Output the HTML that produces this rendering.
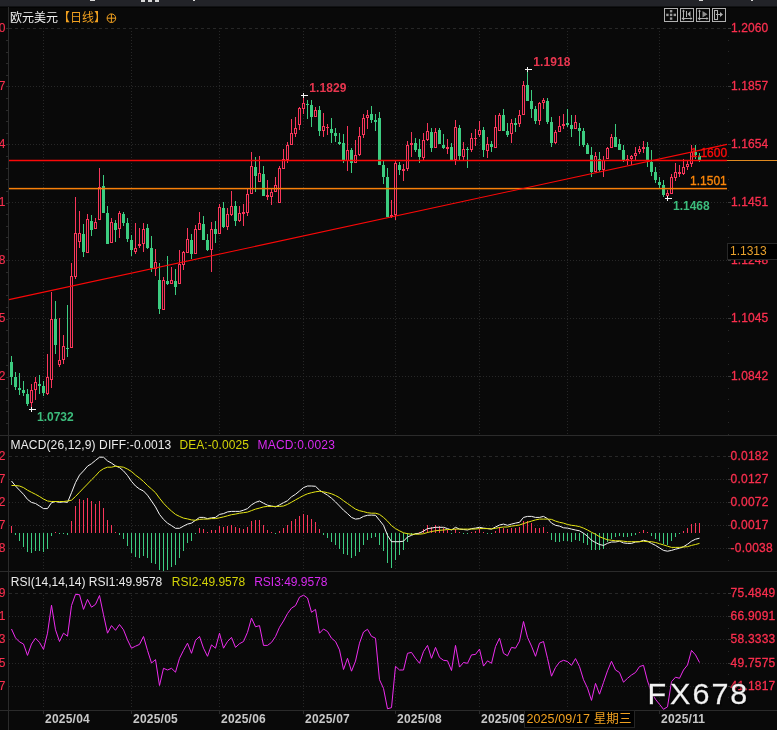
<!DOCTYPE html>
<html><head><meta charset="utf-8"><title>欧元美元 日线</title>
<style>html,body{margin:0;padding:0;background:#090909;overflow:hidden}body{width:777px;height:730px;position:relative}</style>
</head><body>
<svg width="777" height="730" viewBox="0 0 777 730" style="position:absolute;left:0;top:0;display:block">
<rect x="0" y="0" width="777" height="730" fill="#090909"/>
<rect x="0" y="0" width="777" height="6.7" fill="#222328"/><rect x="0" y="6.7" width="777" height="1" fill="#030303"/>
<g fill="#d8d8d8"><rect x="90" y="0" width="5" height="1"/><rect x="141" y="0" width="4" height="2"/><rect x="148" y="0" width="4" height="2"/><rect x="155" y="0" width="4" height="2"/><rect x="193" y="0" width="2" height="1"/><rect x="699" y="0" width="4" height="1"/><rect x="751" y="0" width="2" height="1"/></g>
<g stroke="#272727" stroke-width="1" fill="none" shape-rendering="crispEdges">
<line x1="9" y1="28.5" x2="728" y2="28.5" stroke-dasharray="3 3"/>
<line x1="9" y1="86.5" x2="728" y2="86.5" stroke-dasharray="1 2"/>
<line x1="9" y1="144.5" x2="728" y2="144.5" stroke-dasharray="1 2"/>
<line x1="9" y1="202.5" x2="728" y2="202.5" stroke-dasharray="1 2"/>
<line x1="9" y1="260.5" x2="728" y2="260.5" stroke-dasharray="1 2"/>
<line x1="9" y1="318.5" x2="728" y2="318.5" stroke-dasharray="1 2"/>
<line x1="9" y1="376.5" x2="728" y2="376.5" stroke-dasharray="1 2"/>
<line x1="9" y1="456.5" x2="728" y2="456.5" stroke-dasharray="3 3"/>
<line x1="9" y1="479.5" x2="728" y2="479.5" stroke-dasharray="1 2"/>
<line x1="9" y1="502.5" x2="728" y2="502.5" stroke-dasharray="1 2"/>
<line x1="9" y1="525.5" x2="728" y2="525.5" stroke-dasharray="1 2"/>
<line x1="9" y1="548.5" x2="728" y2="548.5" stroke-dasharray="1 2"/>
<line x1="9" y1="593.5" x2="728" y2="593.5" stroke-dasharray="3 3"/>
<line x1="9" y1="616.5" x2="728" y2="616.5" stroke-dasharray="1 2"/>
<line x1="9" y1="639.5" x2="728" y2="639.5" stroke-dasharray="1 2"/>
<line x1="9" y1="663.5" x2="728" y2="663.5" stroke-dasharray="1 2"/>
<line x1="9" y1="686.5" x2="728" y2="686.5" stroke-dasharray="1 2"/>
<line x1="43.5" y1="28" x2="43.5" y2="435" stroke-dasharray="1 2"/>
<line x1="43.5" y1="457" x2="43.5" y2="571" stroke-dasharray="1 2"/>
<line x1="43.5" y1="595" x2="43.5" y2="709" stroke-dasharray="1 2"/>
<line x1="131.5" y1="28" x2="131.5" y2="435" stroke-dasharray="1 2"/>
<line x1="131.5" y1="457" x2="131.5" y2="571" stroke-dasharray="1 2"/>
<line x1="131.5" y1="595" x2="131.5" y2="709" stroke-dasharray="1 2"/>
<line x1="219.5" y1="28" x2="219.5" y2="435" stroke-dasharray="1 2"/>
<line x1="219.5" y1="457" x2="219.5" y2="571" stroke-dasharray="1 2"/>
<line x1="219.5" y1="595" x2="219.5" y2="709" stroke-dasharray="1 2"/>
<line x1="303.5" y1="28" x2="303.5" y2="435" stroke-dasharray="1 2"/>
<line x1="303.5" y1="457" x2="303.5" y2="571" stroke-dasharray="1 2"/>
<line x1="303.5" y1="595" x2="303.5" y2="709" stroke-dasharray="1 2"/>
<line x1="395.5" y1="28" x2="395.5" y2="435" stroke-dasharray="1 2"/>
<line x1="395.5" y1="457" x2="395.5" y2="571" stroke-dasharray="1 2"/>
<line x1="395.5" y1="595" x2="395.5" y2="709" stroke-dasharray="1 2"/>
<line x1="479.5" y1="28" x2="479.5" y2="435" stroke-dasharray="1 2"/>
<line x1="479.5" y1="457" x2="479.5" y2="571" stroke-dasharray="1 2"/>
<line x1="479.5" y1="595" x2="479.5" y2="709" stroke-dasharray="1 2"/>
<line x1="567.5" y1="28" x2="567.5" y2="435" stroke-dasharray="1 2"/>
<line x1="567.5" y1="457" x2="567.5" y2="571" stroke-dasharray="1 2"/>
<line x1="567.5" y1="595" x2="567.5" y2="709" stroke-dasharray="1 2"/>
<line x1="659.5" y1="28" x2="659.5" y2="435" stroke-dasharray="1 2"/>
<line x1="659.5" y1="457" x2="659.5" y2="571" stroke-dasharray="1 2"/>
<line x1="659.5" y1="595" x2="659.5" y2="709" stroke-dasharray="1 2"/>
<line x1="728.5" y1="28" x2="728.5" y2="435" stroke-dasharray="1 10.6"/>
<line x1="728.5" y1="456" x2="728.5" y2="571" stroke-dasharray="1 10.5"/>
<line x1="728.5" y1="593" x2="728.5" y2="709" stroke-dasharray="1 10.6"/>
</g>
<g stroke="#2b2b2b" stroke-width="1" shape-rendering="crispEdges">
<line x1="0" y1="435.5" x2="777" y2="435.5"/>
<line x1="0" y1="571.5" x2="777" y2="571.5"/>
<line x1="0" y1="710.5" x2="777" y2="710.5"/>
<line x1="8.5" y1="7" x2="8.5" y2="730"/>
<line x1="43.5" y1="711" x2="43.5" y2="714"/>
<line x1="131.5" y1="711" x2="131.5" y2="714"/>
<line x1="219.5" y1="711" x2="219.5" y2="714"/>
<line x1="303.5" y1="711" x2="303.5" y2="714"/>
<line x1="395.5" y1="711" x2="395.5" y2="714"/>
<line x1="479.5" y1="711" x2="479.5" y2="714"/>
<line x1="567.5" y1="711" x2="567.5" y2="714"/>
<line x1="659.5" y1="711" x2="659.5" y2="714"/>
<line x1="6" y1="28.5" x2="8" y2="28.5"/>
<line x1="6" y1="40.5" x2="8" y2="40.5"/>
<line x1="6" y1="52.5" x2="8" y2="52.5"/>
<line x1="6" y1="63.5" x2="8" y2="63.5"/>
<line x1="6" y1="75.5" x2="8" y2="75.5"/>
<line x1="6" y1="86.5" x2="8" y2="86.5"/>
<line x1="6" y1="98.5" x2="8" y2="98.5"/>
<line x1="6" y1="110.5" x2="8" y2="110.5"/>
<line x1="6" y1="121.5" x2="8" y2="121.5"/>
<line x1="6" y1="133.5" x2="8" y2="133.5"/>
<line x1="6" y1="144.5" x2="8" y2="144.5"/>
<line x1="6" y1="156.5" x2="8" y2="156.5"/>
<line x1="6" y1="168.5" x2="8" y2="168.5"/>
<line x1="6" y1="179.5" x2="8" y2="179.5"/>
<line x1="6" y1="191.5" x2="8" y2="191.5"/>
<line x1="6" y1="203.5" x2="8" y2="203.5"/>
<line x1="6" y1="214.5" x2="8" y2="214.5"/>
<line x1="6" y1="226.5" x2="8" y2="226.5"/>
<line x1="6" y1="237.5" x2="8" y2="237.5"/>
<line x1="6" y1="249.5" x2="8" y2="249.5"/>
<line x1="6" y1="260.5" x2="8" y2="260.5"/>
<line x1="6" y1="272.5" x2="8" y2="272.5"/>
<line x1="6" y1="284.5" x2="8" y2="284.5"/>
<line x1="6" y1="295.5" x2="8" y2="295.5"/>
<line x1="6" y1="307.5" x2="8" y2="307.5"/>
<line x1="6" y1="319.5" x2="8" y2="319.5"/>
<line x1="6" y1="330.5" x2="8" y2="330.5"/>
<line x1="6" y1="342.5" x2="8" y2="342.5"/>
<line x1="6" y1="353.5" x2="8" y2="353.5"/>
<line x1="6" y1="365.5" x2="8" y2="365.5"/>
<line x1="6" y1="377.5" x2="8" y2="377.5"/>
<line x1="6" y1="388.5" x2="8" y2="388.5"/>
<line x1="6" y1="400.5" x2="8" y2="400.5"/>
<line x1="6" y1="411.5" x2="8" y2="411.5"/>
<line x1="6" y1="423.5" x2="8" y2="423.5"/>
<line x1="6" y1="435.5" x2="8" y2="435.5"/>
</g>
<g shape-rendering="crispEdges">
<rect x="11" y="356" width="1" height="29" fill="#3ccc80"/>
<rect x="10" y="362" width="3" height="15" fill="#3ccc80"/>
<rect x="15" y="372" width="1" height="18" fill="#3ccc80"/>
<rect x="14" y="377" width="3" height="10" fill="#3ccc80"/>
<rect x="19" y="373" width="1" height="22" fill="#3ccc80"/>
<rect x="18" y="388" width="3" height="2" fill="#3ccc80"/>
<rect x="23" y="381" width="1" height="15" fill="#3ccc80"/>
<rect x="22" y="390" width="3" height="3" fill="#3ccc80"/>
<rect x="27" y="389" width="1" height="17" fill="#3ccc80"/>
<rect x="26" y="394" width="3" height="10" fill="#3ccc80"/>
<rect x="31" y="384" width="1" height="6" fill="#f8365a"/>
<rect x="31" y="403" width="1" height="4" fill="#f8365a"/>
<rect x="30" y="390" width="3" height="13" fill="#f8365a"/>
<rect x="31" y="391" width="1" height="11" fill="#090909"/>
<rect x="35" y="377" width="1" height="5" fill="#f8365a"/>
<rect x="35" y="390" width="1" height="10" fill="#f8365a"/>
<rect x="34" y="382" width="3" height="8" fill="#f8365a"/>
<rect x="35" y="383" width="1" height="6" fill="#090909"/>
<rect x="39" y="375" width="1" height="19" fill="#3ccc80"/>
<rect x="38" y="384" width="3" height="2" fill="#3ccc80"/>
<rect x="43" y="381" width="1" height="15" fill="#3ccc80"/>
<rect x="42" y="386" width="3" height="7" fill="#3ccc80"/>
<rect x="47" y="354" width="1" height="23" fill="#f8365a"/>
<rect x="47" y="394" width="1" height="1" fill="#f8365a"/>
<rect x="46" y="377" width="3" height="17" fill="#f8365a"/>
<rect x="47" y="378" width="1" height="15" fill="#090909"/>
<rect x="51" y="292" width="1" height="27" fill="#f8365a"/>
<rect x="51" y="380" width="1" height="8" fill="#f8365a"/>
<rect x="50" y="319" width="3" height="61" fill="#f8365a"/>
<rect x="51" y="320" width="1" height="59" fill="#090909"/>
<rect x="55" y="301" width="1" height="53" fill="#3ccc80"/>
<rect x="54" y="319" width="3" height="26" fill="#3ccc80"/>
<rect x="59" y="318" width="1" height="42" fill="#f8365a"/>
<rect x="59" y="365" width="1" height="2" fill="#f8365a"/>
<rect x="58" y="360" width="3" height="5" fill="#f8365a"/>
<rect x="59" y="361" width="1" height="3" fill="#090909"/>
<rect x="63" y="335" width="1" height="11" fill="#f8365a"/>
<rect x="63" y="360" width="1" height="4" fill="#f8365a"/>
<rect x="62" y="346" width="3" height="14" fill="#f8365a"/>
<rect x="63" y="347" width="1" height="12" fill="#090909"/>
<rect x="67" y="305" width="1" height="52" fill="#3ccc80"/>
<rect x="66" y="348" width="3" height="1" fill="#3ccc80"/>
<rect x="71" y="263" width="1" height="13" fill="#f8365a"/>
<rect x="70" y="276" width="3" height="72" fill="#f8365a"/>
<rect x="71" y="277" width="1" height="70" fill="#090909"/>
<rect x="75" y="197" width="1" height="36" fill="#f8365a"/>
<rect x="75" y="277" width="1" height="2" fill="#f8365a"/>
<rect x="74" y="233" width="3" height="44" fill="#f8365a"/>
<rect x="75" y="234" width="1" height="42" fill="#090909"/>
<rect x="79" y="211" width="1" height="22" fill="#f8365a"/>
<rect x="79" y="242" width="1" height="6" fill="#f8365a"/>
<rect x="78" y="233" width="3" height="9" fill="#f8365a"/>
<rect x="79" y="234" width="1" height="7" fill="#090909"/>
<rect x="83" y="224" width="1" height="33" fill="#3ccc80"/>
<rect x="82" y="234" width="3" height="18" fill="#3ccc80"/>
<rect x="87" y="214" width="1" height="5" fill="#f8365a"/>
<rect x="86" y="219" width="3" height="34" fill="#f8365a"/>
<rect x="87" y="220" width="1" height="32" fill="#090909"/>
<rect x="91" y="215" width="1" height="21" fill="#3ccc80"/>
<rect x="90" y="221" width="3" height="9" fill="#3ccc80"/>
<rect x="95" y="218" width="1" height="4" fill="#f8365a"/>
<rect x="94" y="222" width="3" height="7" fill="#f8365a"/>
<rect x="95" y="223" width="1" height="5" fill="#090909"/>
<rect x="99" y="168" width="1" height="19" fill="#f8365a"/>
<rect x="98" y="187" width="3" height="33" fill="#f8365a"/>
<rect x="99" y="188" width="1" height="31" fill="#090909"/>
<rect x="103" y="175" width="1" height="38" fill="#3ccc80"/>
<rect x="102" y="186" width="3" height="27" fill="#3ccc80"/>
<rect x="107" y="206" width="1" height="38" fill="#3ccc80"/>
<rect x="106" y="213" width="3" height="31" fill="#3ccc80"/>
<rect x="111" y="218" width="1" height="4" fill="#f8365a"/>
<rect x="110" y="222" width="3" height="21" fill="#f8365a"/>
<rect x="111" y="223" width="1" height="19" fill="#090909"/>
<rect x="115" y="220" width="1" height="22" fill="#3ccc80"/>
<rect x="114" y="223" width="3" height="7" fill="#3ccc80"/>
<rect x="119" y="211" width="1" height="2" fill="#f8365a"/>
<rect x="119" y="229" width="1" height="9" fill="#f8365a"/>
<rect x="118" y="213" width="3" height="16" fill="#f8365a"/>
<rect x="119" y="214" width="1" height="14" fill="#090909"/>
<rect x="123" y="212" width="1" height="14" fill="#3ccc80"/>
<rect x="122" y="214" width="3" height="9" fill="#3ccc80"/>
<rect x="127" y="218" width="1" height="24" fill="#3ccc80"/>
<rect x="126" y="223" width="3" height="16" fill="#3ccc80"/>
<rect x="131" y="235" width="1" height="21" fill="#3ccc80"/>
<rect x="130" y="240" width="3" height="10" fill="#3ccc80"/>
<rect x="135" y="223" width="1" height="25" fill="#f8365a"/>
<rect x="135" y="252" width="1" height="2" fill="#f8365a"/>
<rect x="134" y="248" width="3" height="4" fill="#f8365a"/>
<rect x="135" y="249" width="1" height="2" fill="#090909"/>
<rect x="139" y="228" width="1" height="16" fill="#f8365a"/>
<rect x="139" y="246" width="1" height="2" fill="#f8365a"/>
<rect x="138" y="244" width="3" height="2" fill="#f8365a"/>
<rect x="143" y="223" width="1" height="6" fill="#f8365a"/>
<rect x="143" y="244" width="1" height="8" fill="#f8365a"/>
<rect x="142" y="229" width="3" height="15" fill="#f8365a"/>
<rect x="143" y="230" width="1" height="13" fill="#090909"/>
<rect x="147" y="224" width="1" height="25" fill="#3ccc80"/>
<rect x="146" y="228" width="3" height="20" fill="#3ccc80"/>
<rect x="151" y="236" width="1" height="36" fill="#3ccc80"/>
<rect x="150" y="248" width="3" height="20" fill="#3ccc80"/>
<rect x="155" y="249" width="1" height="13" fill="#f8365a"/>
<rect x="155" y="269" width="1" height="7" fill="#f8365a"/>
<rect x="154" y="262" width="3" height="7" fill="#f8365a"/>
<rect x="155" y="263" width="1" height="5" fill="#090909"/>
<rect x="159" y="263" width="1" height="51" fill="#3ccc80"/>
<rect x="158" y="280" width="3" height="29" fill="#3ccc80"/>
<rect x="163" y="277" width="1" height="3" fill="#f8365a"/>
<rect x="162" y="280" width="3" height="30" fill="#f8365a"/>
<rect x="163" y="281" width="1" height="28" fill="#090909"/>
<rect x="167" y="256" width="1" height="29" fill="#3ccc80"/>
<rect x="166" y="281" width="3" height="3" fill="#3ccc80"/>
<rect x="171" y="267" width="1" height="13" fill="#f8365a"/>
<rect x="170" y="280" width="3" height="4" fill="#f8365a"/>
<rect x="171" y="281" width="1" height="2" fill="#090909"/>
<rect x="175" y="269" width="1" height="26" fill="#3ccc80"/>
<rect x="174" y="281" width="3" height="6" fill="#3ccc80"/>
<rect x="179" y="250" width="1" height="14" fill="#f8365a"/>
<rect x="178" y="264" width="3" height="20" fill="#f8365a"/>
<rect x="179" y="265" width="1" height="18" fill="#090909"/>
<rect x="183" y="251" width="1" height="1" fill="#f8365a"/>
<rect x="183" y="265" width="1" height="5" fill="#f8365a"/>
<rect x="182" y="252" width="3" height="13" fill="#f8365a"/>
<rect x="183" y="253" width="1" height="11" fill="#090909"/>
<rect x="187" y="228" width="1" height="11" fill="#f8365a"/>
<rect x="186" y="239" width="3" height="14" fill="#f8365a"/>
<rect x="187" y="240" width="1" height="12" fill="#090909"/>
<rect x="191" y="234" width="1" height="25" fill="#3ccc80"/>
<rect x="190" y="240" width="3" height="14" fill="#3ccc80"/>
<rect x="195" y="225" width="1" height="4" fill="#f8365a"/>
<rect x="194" y="229" width="3" height="25" fill="#f8365a"/>
<rect x="195" y="230" width="1" height="23" fill="#090909"/>
<rect x="199" y="212" width="1" height="11" fill="#f8365a"/>
<rect x="198" y="223" width="3" height="7" fill="#f8365a"/>
<rect x="199" y="224" width="1" height="5" fill="#090909"/>
<rect x="203" y="216" width="1" height="24" fill="#3ccc80"/>
<rect x="202" y="224" width="3" height="16" fill="#3ccc80"/>
<rect x="207" y="234" width="1" height="17" fill="#3ccc80"/>
<rect x="206" y="240" width="3" height="10" fill="#3ccc80"/>
<rect x="211" y="222" width="1" height="7" fill="#f8365a"/>
<rect x="211" y="250" width="1" height="22" fill="#f8365a"/>
<rect x="210" y="229" width="3" height="21" fill="#f8365a"/>
<rect x="211" y="230" width="1" height="19" fill="#090909"/>
<rect x="215" y="221" width="1" height="22" fill="#3ccc80"/>
<rect x="214" y="229" width="3" height="5" fill="#3ccc80"/>
<rect x="219" y="204" width="1" height="3" fill="#f8365a"/>
<rect x="218" y="207" width="3" height="27" fill="#f8365a"/>
<rect x="219" y="208" width="1" height="25" fill="#090909"/>
<rect x="223" y="202" width="1" height="26" fill="#3ccc80"/>
<rect x="222" y="208" width="3" height="19" fill="#3ccc80"/>
<rect x="227" y="208" width="1" height="6" fill="#f8365a"/>
<rect x="227" y="227" width="1" height="3" fill="#f8365a"/>
<rect x="226" y="214" width="3" height="13" fill="#f8365a"/>
<rect x="227" y="215" width="1" height="11" fill="#090909"/>
<rect x="231" y="191" width="1" height="15" fill="#f8365a"/>
<rect x="231" y="215" width="1" height="1" fill="#f8365a"/>
<rect x="230" y="206" width="3" height="9" fill="#f8365a"/>
<rect x="231" y="207" width="1" height="7" fill="#090909"/>
<rect x="235" y="201" width="1" height="25" fill="#3ccc80"/>
<rect x="234" y="206" width="3" height="15" fill="#3ccc80"/>
<rect x="239" y="206" width="1" height="7" fill="#f8365a"/>
<rect x="239" y="221" width="1" height="1" fill="#f8365a"/>
<rect x="238" y="213" width="3" height="8" fill="#f8365a"/>
<rect x="239" y="214" width="1" height="6" fill="#090909"/>
<rect x="243" y="204" width="1" height="8" fill="#f8365a"/>
<rect x="243" y="214" width="1" height="12" fill="#f8365a"/>
<rect x="242" y="212" width="3" height="2" fill="#f8365a"/>
<rect x="247" y="189" width="1" height="5" fill="#f8365a"/>
<rect x="247" y="213" width="1" height="3" fill="#f8365a"/>
<rect x="246" y="194" width="3" height="19" fill="#f8365a"/>
<rect x="247" y="195" width="1" height="17" fill="#090909"/>
<rect x="251" y="152" width="1" height="14" fill="#f8365a"/>
<rect x="250" y="166" width="3" height="28" fill="#f8365a"/>
<rect x="251" y="167" width="1" height="26" fill="#090909"/>
<rect x="255" y="157" width="1" height="35" fill="#3ccc80"/>
<rect x="254" y="167" width="3" height="9" fill="#3ccc80"/>
<rect x="259" y="156" width="1" height="17" fill="#f8365a"/>
<rect x="258" y="173" width="3" height="9" fill="#f8365a"/>
<rect x="259" y="174" width="1" height="7" fill="#090909"/>
<rect x="263" y="166" width="1" height="30" fill="#3ccc80"/>
<rect x="262" y="174" width="3" height="22" fill="#3ccc80"/>
<rect x="267" y="180" width="1" height="15" fill="#f8365a"/>
<rect x="267" y="197" width="1" height="3" fill="#f8365a"/>
<rect x="266" y="195" width="3" height="2" fill="#f8365a"/>
<rect x="271" y="189" width="1" height="3" fill="#f8365a"/>
<rect x="271" y="197" width="1" height="8" fill="#f8365a"/>
<rect x="270" y="192" width="3" height="5" fill="#f8365a"/>
<rect x="271" y="193" width="1" height="3" fill="#090909"/>
<rect x="275" y="177" width="1" height="8" fill="#f8365a"/>
<rect x="274" y="185" width="3" height="7" fill="#f8365a"/>
<rect x="275" y="186" width="1" height="5" fill="#090909"/>
<rect x="279" y="166" width="1" height="2" fill="#f8365a"/>
<rect x="278" y="168" width="3" height="35" fill="#f8365a"/>
<rect x="279" y="169" width="1" height="33" fill="#090909"/>
<rect x="283" y="149" width="1" height="10" fill="#f8365a"/>
<rect x="282" y="159" width="3" height="10" fill="#f8365a"/>
<rect x="283" y="160" width="1" height="8" fill="#090909"/>
<rect x="287" y="142" width="1" height="3" fill="#f8365a"/>
<rect x="287" y="160" width="1" height="3" fill="#f8365a"/>
<rect x="286" y="145" width="3" height="15" fill="#f8365a"/>
<rect x="287" y="146" width="1" height="13" fill="#090909"/>
<rect x="291" y="119" width="1" height="14" fill="#f8365a"/>
<rect x="290" y="133" width="3" height="12" fill="#f8365a"/>
<rect x="291" y="134" width="1" height="10" fill="#090909"/>
<rect x="295" y="117" width="1" height="11" fill="#f8365a"/>
<rect x="295" y="134" width="1" height="3" fill="#f8365a"/>
<rect x="294" y="128" width="3" height="6" fill="#f8365a"/>
<rect x="295" y="129" width="1" height="4" fill="#090909"/>
<rect x="299" y="107" width="1" height="1" fill="#f8365a"/>
<rect x="299" y="125" width="1" height="5" fill="#f8365a"/>
<rect x="298" y="108" width="3" height="17" fill="#f8365a"/>
<rect x="299" y="109" width="1" height="15" fill="#090909"/>
<rect x="303" y="95" width="1" height="8" fill="#f8365a"/>
<rect x="303" y="109" width="1" height="5" fill="#f8365a"/>
<rect x="302" y="103" width="3" height="6" fill="#f8365a"/>
<rect x="303" y="104" width="1" height="4" fill="#090909"/>
<rect x="307" y="100" width="1" height="19" fill="#3ccc80"/>
<rect x="306" y="104" width="3" height="1" fill="#3ccc80"/>
<rect x="311" y="100" width="1" height="27" fill="#3ccc80"/>
<rect x="310" y="105" width="3" height="12" fill="#3ccc80"/>
<rect x="315" y="107" width="1" height="3" fill="#f8365a"/>
<rect x="314" y="110" width="3" height="7" fill="#f8365a"/>
<rect x="315" y="111" width="1" height="5" fill="#090909"/>
<rect x="319" y="106" width="1" height="30" fill="#3ccc80"/>
<rect x="318" y="110" width="3" height="21" fill="#3ccc80"/>
<rect x="323" y="113" width="1" height="13" fill="#f8365a"/>
<rect x="323" y="131" width="1" height="6" fill="#f8365a"/>
<rect x="322" y="126" width="3" height="5" fill="#f8365a"/>
<rect x="323" y="127" width="1" height="3" fill="#090909"/>
<rect x="327" y="124" width="1" height="3" fill="#f8365a"/>
<rect x="327" y="128" width="1" height="7" fill="#f8365a"/>
<rect x="326" y="127" width="3" height="1" fill="#f8365a"/>
<rect x="331" y="118" width="1" height="25" fill="#3ccc80"/>
<rect x="330" y="129" width="3" height="4" fill="#3ccc80"/>
<rect x="335" y="128" width="1" height="14" fill="#3ccc80"/>
<rect x="334" y="133" width="3" height="3" fill="#3ccc80"/>
<rect x="339" y="133" width="1" height="12" fill="#3ccc80"/>
<rect x="338" y="142" width="3" height="2" fill="#3ccc80"/>
<rect x="343" y="134" width="1" height="29" fill="#3ccc80"/>
<rect x="342" y="143" width="3" height="17" fill="#3ccc80"/>
<rect x="347" y="126" width="1" height="24" fill="#f8365a"/>
<rect x="347" y="161" width="1" height="10" fill="#f8365a"/>
<rect x="346" y="150" width="3" height="11" fill="#f8365a"/>
<rect x="347" y="151" width="1" height="9" fill="#090909"/>
<rect x="351" y="148" width="1" height="25" fill="#3ccc80"/>
<rect x="350" y="150" width="3" height="13" fill="#3ccc80"/>
<rect x="355" y="140" width="1" height="15" fill="#f8365a"/>
<rect x="354" y="155" width="3" height="8" fill="#f8365a"/>
<rect x="355" y="156" width="1" height="6" fill="#090909"/>
<rect x="359" y="127" width="1" height="9" fill="#f8365a"/>
<rect x="359" y="155" width="1" height="1" fill="#f8365a"/>
<rect x="358" y="136" width="3" height="19" fill="#f8365a"/>
<rect x="359" y="137" width="1" height="17" fill="#090909"/>
<rect x="363" y="114" width="1" height="4" fill="#f8365a"/>
<rect x="363" y="135" width="1" height="3" fill="#f8365a"/>
<rect x="362" y="118" width="3" height="17" fill="#f8365a"/>
<rect x="363" y="119" width="1" height="15" fill="#090909"/>
<rect x="367" y="110" width="1" height="5" fill="#f8365a"/>
<rect x="367" y="118" width="1" height="11" fill="#f8365a"/>
<rect x="366" y="115" width="3" height="3" fill="#f8365a"/>
<rect x="367" y="116" width="1" height="1" fill="#090909"/>
<rect x="371" y="106" width="1" height="17" fill="#3ccc80"/>
<rect x="370" y="114" width="3" height="6" fill="#3ccc80"/>
<rect x="375" y="114" width="1" height="17" fill="#3ccc80"/>
<rect x="374" y="120" width="3" height="2" fill="#3ccc80"/>
<rect x="379" y="112" width="1" height="53" fill="#3ccc80"/>
<rect x="378" y="118" width="3" height="47" fill="#3ccc80"/>
<rect x="383" y="161" width="1" height="23" fill="#3ccc80"/>
<rect x="382" y="165" width="3" height="12" fill="#3ccc80"/>
<rect x="387" y="168" width="1" height="49" fill="#3ccc80"/>
<rect x="386" y="177" width="3" height="40" fill="#3ccc80"/>
<rect x="391" y="200" width="1" height="15" fill="#f8365a"/>
<rect x="391" y="217" width="1" height="1" fill="#f8365a"/>
<rect x="390" y="215" width="3" height="2" fill="#f8365a"/>
<rect x="395" y="161" width="1" height="2" fill="#f8365a"/>
<rect x="395" y="215" width="1" height="5" fill="#f8365a"/>
<rect x="394" y="163" width="3" height="52" fill="#f8365a"/>
<rect x="395" y="164" width="1" height="50" fill="#090909"/>
<rect x="399" y="162" width="1" height="13" fill="#3ccc80"/>
<rect x="398" y="165" width="3" height="5" fill="#3ccc80"/>
<rect x="403" y="164" width="1" height="5" fill="#f8365a"/>
<rect x="403" y="171" width="1" height="10" fill="#f8365a"/>
<rect x="402" y="169" width="3" height="2" fill="#f8365a"/>
<rect x="407" y="141" width="1" height="4" fill="#f8365a"/>
<rect x="407" y="169" width="1" height="2" fill="#f8365a"/>
<rect x="406" y="145" width="3" height="24" fill="#f8365a"/>
<rect x="407" y="146" width="1" height="22" fill="#090909"/>
<rect x="411" y="132" width="1" height="11" fill="#f8365a"/>
<rect x="411" y="145" width="1" height="12" fill="#f8365a"/>
<rect x="410" y="143" width="3" height="2" fill="#f8365a"/>
<rect x="415" y="138" width="1" height="14" fill="#3ccc80"/>
<rect x="414" y="143" width="3" height="7" fill="#3ccc80"/>
<rect x="419" y="139" width="1" height="24" fill="#3ccc80"/>
<rect x="418" y="149" width="3" height="8" fill="#3ccc80"/>
<rect x="423" y="133" width="1" height="7" fill="#f8365a"/>
<rect x="423" y="158" width="1" height="2" fill="#f8365a"/>
<rect x="422" y="140" width="3" height="18" fill="#f8365a"/>
<rect x="423" y="141" width="1" height="16" fill="#090909"/>
<rect x="427" y="123" width="1" height="8" fill="#f8365a"/>
<rect x="427" y="140" width="1" height="1" fill="#f8365a"/>
<rect x="426" y="131" width="3" height="9" fill="#f8365a"/>
<rect x="427" y="132" width="1" height="7" fill="#090909"/>
<rect x="431" y="128" width="1" height="24" fill="#3ccc80"/>
<rect x="430" y="132" width="3" height="16" fill="#3ccc80"/>
<rect x="435" y="128" width="1" height="4" fill="#f8365a"/>
<rect x="434" y="132" width="3" height="16" fill="#f8365a"/>
<rect x="435" y="133" width="1" height="14" fill="#090909"/>
<rect x="439" y="128" width="1" height="16" fill="#3ccc80"/>
<rect x="438" y="130" width="3" height="14" fill="#3ccc80"/>
<rect x="443" y="134" width="1" height="15" fill="#3ccc80"/>
<rect x="442" y="145" width="3" height="3" fill="#3ccc80"/>
<rect x="447" y="139" width="1" height="8" fill="#f8365a"/>
<rect x="447" y="149" width="1" height="5" fill="#f8365a"/>
<rect x="446" y="147" width="3" height="2" fill="#f8365a"/>
<rect x="451" y="143" width="1" height="17" fill="#3ccc80"/>
<rect x="450" y="147" width="3" height="13" fill="#3ccc80"/>
<rect x="455" y="120" width="1" height="7" fill="#f8365a"/>
<rect x="455" y="160" width="1" height="5" fill="#f8365a"/>
<rect x="454" y="127" width="3" height="33" fill="#f8365a"/>
<rect x="455" y="128" width="1" height="31" fill="#090909"/>
<rect x="459" y="125" width="1" height="35" fill="#3ccc80"/>
<rect x="458" y="128" width="3" height="28" fill="#3ccc80"/>
<rect x="463" y="142" width="1" height="7" fill="#f8365a"/>
<rect x="463" y="157" width="1" height="3" fill="#f8365a"/>
<rect x="462" y="149" width="3" height="8" fill="#f8365a"/>
<rect x="463" y="150" width="1" height="6" fill="#090909"/>
<rect x="467" y="147" width="1" height="21" fill="#3ccc80"/>
<rect x="466" y="149" width="3" height="1" fill="#3ccc80"/>
<rect x="471" y="133" width="1" height="5" fill="#f8365a"/>
<rect x="471" y="150" width="1" height="2" fill="#f8365a"/>
<rect x="470" y="138" width="3" height="12" fill="#f8365a"/>
<rect x="471" y="139" width="1" height="10" fill="#090909"/>
<rect x="475" y="129" width="1" height="9" fill="#f8365a"/>
<rect x="475" y="139" width="1" height="7" fill="#f8365a"/>
<rect x="474" y="138" width="3" height="1" fill="#f8365a"/>
<rect x="479" y="121" width="1" height="9" fill="#f8365a"/>
<rect x="479" y="135" width="1" height="2" fill="#f8365a"/>
<rect x="478" y="130" width="3" height="5" fill="#f8365a"/>
<rect x="479" y="131" width="1" height="3" fill="#090909"/>
<rect x="483" y="127" width="1" height="30" fill="#3ccc80"/>
<rect x="482" y="130" width="3" height="20" fill="#3ccc80"/>
<rect x="487" y="137" width="1" height="7" fill="#f8365a"/>
<rect x="487" y="151" width="1" height="7" fill="#f8365a"/>
<rect x="486" y="144" width="3" height="7" fill="#f8365a"/>
<rect x="487" y="145" width="1" height="5" fill="#090909"/>
<rect x="491" y="141" width="1" height="11" fill="#3ccc80"/>
<rect x="490" y="144" width="3" height="3" fill="#3ccc80"/>
<rect x="495" y="115" width="1" height="12" fill="#f8365a"/>
<rect x="494" y="127" width="3" height="21" fill="#f8365a"/>
<rect x="495" y="128" width="1" height="19" fill="#090909"/>
<rect x="499" y="113" width="1" height="2" fill="#f8365a"/>
<rect x="498" y="115" width="3" height="16" fill="#f8365a"/>
<rect x="499" y="116" width="1" height="14" fill="#090909"/>
<rect x="503" y="109" width="1" height="22" fill="#3ccc80"/>
<rect x="502" y="115" width="3" height="16" fill="#3ccc80"/>
<rect x="507" y="123" width="1" height="14" fill="#3ccc80"/>
<rect x="506" y="131" width="3" height="4" fill="#3ccc80"/>
<rect x="511" y="119" width="1" height="4" fill="#f8365a"/>
<rect x="511" y="134" width="1" height="9" fill="#f8365a"/>
<rect x="510" y="123" width="3" height="11" fill="#f8365a"/>
<rect x="511" y="124" width="1" height="9" fill="#090909"/>
<rect x="515" y="118" width="1" height="14" fill="#3ccc80"/>
<rect x="514" y="123" width="3" height="2" fill="#3ccc80"/>
<rect x="519" y="110" width="1" height="5" fill="#f8365a"/>
<rect x="519" y="124" width="1" height="3" fill="#f8365a"/>
<rect x="518" y="115" width="3" height="9" fill="#f8365a"/>
<rect x="519" y="116" width="1" height="7" fill="#090909"/>
<rect x="523" y="81" width="1" height="4" fill="#f8365a"/>
<rect x="522" y="85" width="3" height="30" fill="#f8365a"/>
<rect x="523" y="86" width="1" height="28" fill="#090909"/>
<rect x="527" y="70" width="1" height="31" fill="#3ccc80"/>
<rect x="526" y="85" width="3" height="16" fill="#3ccc80"/>
<rect x="531" y="90" width="1" height="28" fill="#3ccc80"/>
<rect x="530" y="101" width="3" height="8" fill="#3ccc80"/>
<rect x="535" y="106" width="1" height="18" fill="#3ccc80"/>
<rect x="534" y="109" width="3" height="12" fill="#3ccc80"/>
<rect x="539" y="102" width="1" height="1" fill="#f8365a"/>
<rect x="539" y="121" width="1" height="4" fill="#f8365a"/>
<rect x="538" y="103" width="3" height="18" fill="#f8365a"/>
<rect x="539" y="104" width="1" height="16" fill="#090909"/>
<rect x="543" y="98" width="1" height="2" fill="#f8365a"/>
<rect x="543" y="103" width="1" height="6" fill="#f8365a"/>
<rect x="542" y="100" width="3" height="3" fill="#f8365a"/>
<rect x="543" y="101" width="1" height="1" fill="#090909"/>
<rect x="547" y="98" width="1" height="26" fill="#3ccc80"/>
<rect x="546" y="101" width="3" height="21" fill="#3ccc80"/>
<rect x="551" y="117" width="1" height="30" fill="#3ccc80"/>
<rect x="550" y="122" width="3" height="21" fill="#3ccc80"/>
<rect x="555" y="130" width="1" height="2" fill="#f8365a"/>
<rect x="555" y="143" width="1" height="1" fill="#f8365a"/>
<rect x="554" y="132" width="3" height="11" fill="#f8365a"/>
<rect x="555" y="133" width="1" height="9" fill="#090909"/>
<rect x="559" y="116" width="1" height="10" fill="#f8365a"/>
<rect x="558" y="126" width="3" height="6" fill="#f8365a"/>
<rect x="559" y="127" width="1" height="4" fill="#090909"/>
<rect x="563" y="114" width="1" height="10" fill="#f8365a"/>
<rect x="563" y="126" width="1" height="3" fill="#f8365a"/>
<rect x="562" y="124" width="3" height="2" fill="#f8365a"/>
<rect x="567" y="109" width="1" height="18" fill="#3ccc80"/>
<rect x="566" y="123" width="3" height="2" fill="#3ccc80"/>
<rect x="571" y="115" width="1" height="22" fill="#3ccc80"/>
<rect x="570" y="125" width="3" height="4" fill="#3ccc80"/>
<rect x="575" y="115" width="1" height="7" fill="#f8365a"/>
<rect x="574" y="122" width="3" height="7" fill="#f8365a"/>
<rect x="575" y="123" width="1" height="5" fill="#090909"/>
<rect x="579" y="123" width="1" height="23" fill="#3ccc80"/>
<rect x="578" y="128" width="3" height="3" fill="#3ccc80"/>
<rect x="583" y="128" width="1" height="19" fill="#3ccc80"/>
<rect x="582" y="131" width="3" height="14" fill="#3ccc80"/>
<rect x="587" y="143" width="1" height="11" fill="#3ccc80"/>
<rect x="586" y="145" width="3" height="9" fill="#3ccc80"/>
<rect x="591" y="147" width="1" height="30" fill="#3ccc80"/>
<rect x="590" y="155" width="3" height="17" fill="#3ccc80"/>
<rect x="595" y="152" width="1" height="4" fill="#f8365a"/>
<rect x="594" y="156" width="3" height="16" fill="#f8365a"/>
<rect x="595" y="157" width="1" height="14" fill="#090909"/>
<rect x="599" y="152" width="1" height="20" fill="#3ccc80"/>
<rect x="598" y="159" width="3" height="11" fill="#3ccc80"/>
<rect x="603" y="156" width="1" height="4" fill="#f8365a"/>
<rect x="603" y="170" width="1" height="7" fill="#f8365a"/>
<rect x="602" y="160" width="3" height="10" fill="#f8365a"/>
<rect x="603" y="161" width="1" height="8" fill="#090909"/>
<rect x="607" y="147" width="1" height="1" fill="#f8365a"/>
<rect x="606" y="148" width="3" height="11" fill="#f8365a"/>
<rect x="607" y="149" width="1" height="9" fill="#090909"/>
<rect x="611" y="134" width="1" height="3" fill="#f8365a"/>
<rect x="610" y="137" width="3" height="11" fill="#f8365a"/>
<rect x="611" y="138" width="1" height="9" fill="#090909"/>
<rect x="615" y="124" width="1" height="23" fill="#3ccc80"/>
<rect x="614" y="137" width="3" height="10" fill="#3ccc80"/>
<rect x="619" y="139" width="1" height="11" fill="#3ccc80"/>
<rect x="618" y="144" width="3" height="6" fill="#3ccc80"/>
<rect x="623" y="145" width="1" height="17" fill="#3ccc80"/>
<rect x="622" y="150" width="3" height="11" fill="#3ccc80"/>
<rect x="627" y="155" width="1" height="4" fill="#f8365a"/>
<rect x="627" y="161" width="1" height="4" fill="#f8365a"/>
<rect x="626" y="159" width="3" height="2" fill="#f8365a"/>
<rect x="631" y="155" width="1" height="1" fill="#f8365a"/>
<rect x="631" y="159" width="1" height="6" fill="#f8365a"/>
<rect x="630" y="156" width="3" height="3" fill="#f8365a"/>
<rect x="631" y="157" width="1" height="1" fill="#090909"/>
<rect x="635" y="147" width="1" height="6" fill="#f8365a"/>
<rect x="635" y="156" width="1" height="4" fill="#f8365a"/>
<rect x="634" y="153" width="3" height="3" fill="#f8365a"/>
<rect x="635" y="154" width="1" height="1" fill="#090909"/>
<rect x="639" y="146" width="1" height="3" fill="#f8365a"/>
<rect x="639" y="152" width="1" height="2" fill="#f8365a"/>
<rect x="638" y="149" width="3" height="3" fill="#f8365a"/>
<rect x="639" y="150" width="1" height="1" fill="#090909"/>
<rect x="643" y="141" width="1" height="6" fill="#f8365a"/>
<rect x="643" y="149" width="1" height="4" fill="#f8365a"/>
<rect x="642" y="147" width="3" height="2" fill="#f8365a"/>
<rect x="647" y="142" width="1" height="25" fill="#3ccc80"/>
<rect x="646" y="147" width="3" height="13" fill="#3ccc80"/>
<rect x="651" y="150" width="1" height="26" fill="#3ccc80"/>
<rect x="650" y="162" width="3" height="10" fill="#3ccc80"/>
<rect x="655" y="167" width="1" height="16" fill="#3ccc80"/>
<rect x="654" y="172" width="3" height="8" fill="#3ccc80"/>
<rect x="659" y="177" width="1" height="11" fill="#3ccc80"/>
<rect x="658" y="182" width="3" height="3" fill="#3ccc80"/>
<rect x="663" y="180" width="1" height="17" fill="#3ccc80"/>
<rect x="662" y="185" width="3" height="10" fill="#3ccc80"/>
<rect x="667" y="190" width="1" height="3" fill="#f8365a"/>
<rect x="667" y="196" width="1" height="2" fill="#f8365a"/>
<rect x="666" y="193" width="3" height="3" fill="#f8365a"/>
<rect x="667" y="194" width="1" height="1" fill="#090909"/>
<rect x="671" y="174" width="1" height="3" fill="#f8365a"/>
<rect x="670" y="177" width="3" height="17" fill="#f8365a"/>
<rect x="671" y="178" width="1" height="15" fill="#090909"/>
<rect x="675" y="163" width="1" height="9" fill="#f8365a"/>
<rect x="675" y="178" width="1" height="3" fill="#f8365a"/>
<rect x="674" y="172" width="3" height="6" fill="#f8365a"/>
<rect x="675" y="173" width="1" height="4" fill="#090909"/>
<rect x="679" y="165" width="1" height="7" fill="#f8365a"/>
<rect x="679" y="174" width="1" height="3" fill="#f8365a"/>
<rect x="678" y="172" width="3" height="2" fill="#f8365a"/>
<rect x="683" y="159" width="1" height="8" fill="#f8365a"/>
<rect x="683" y="174" width="1" height="1" fill="#f8365a"/>
<rect x="682" y="167" width="3" height="7" fill="#f8365a"/>
<rect x="683" y="168" width="1" height="5" fill="#090909"/>
<rect x="687" y="160" width="1" height="4" fill="#f8365a"/>
<rect x="687" y="167" width="1" height="3" fill="#f8365a"/>
<rect x="686" y="164" width="3" height="3" fill="#f8365a"/>
<rect x="687" y="165" width="1" height="1" fill="#090909"/>
<rect x="691" y="145" width="1" height="7" fill="#f8365a"/>
<rect x="691" y="164" width="1" height="3" fill="#f8365a"/>
<rect x="690" y="152" width="3" height="12" fill="#f8365a"/>
<rect x="691" y="153" width="1" height="10" fill="#090909"/>
<rect x="695" y="145" width="1" height="14" fill="#3ccc80"/>
<rect x="694" y="152" width="3" height="3" fill="#3ccc80"/>
<rect x="699" y="153" width="1" height="9" fill="#3ccc80"/>
<rect x="698" y="156" width="3" height="4" fill="#3ccc80"/>
</g>
<g font-family="Liberation Sans, sans-serif" font-size="12px" text-anchor="end" stroke-width="0.35">
<text x="727.1" y="157" fill="#ff0a0a" stroke="#ff0a0a">1.1600</text>
<text x="726.8" y="185.2" fill="#fa860a" stroke="#fa860a">1.1501</text>
</g>
<rect x="727" y="160" width="50" height="1" fill="#e08a20" shape-rendering="crispEdges"/>
<rect x="9" y="159.75" width="718" height="1.5" fill="#fa0808"/>
<rect x="9" y="187.85" width="718" height="1.5" fill="#f8800a"/>
<line x1="9" y1="299.6" x2="727" y2="144.4" stroke="#fa0808" stroke-width="1.1"/>
<g shape-rendering="crispEdges">
<rect x="11" y="526" width="1" height="7" fill="#f8365a"/>
<rect x="15" y="533" width="1" height="2" fill="#3ccc80"/>
<rect x="19" y="533" width="1" height="8" fill="#3ccc80"/>
<rect x="23" y="533" width="1" height="14" fill="#3ccc80"/>
<rect x="27" y="533" width="1" height="19" fill="#3ccc80"/>
<rect x="31" y="533" width="1" height="20" fill="#3ccc80"/>
<rect x="35" y="533" width="1" height="18" fill="#3ccc80"/>
<rect x="39" y="533" width="1" height="18" fill="#3ccc80"/>
<rect x="43" y="533" width="1" height="19" fill="#3ccc80"/>
<rect x="47" y="533" width="1" height="16" fill="#3ccc80"/>
<rect x="51" y="533" width="1" height="3" fill="#3ccc80"/>
<rect x="55" y="532" width="1" height="1" fill="#f8365a"/>
<rect x="59" y="533" width="1" height="1" fill="#3ccc80"/>
<rect x="63" y="533" width="1" height="1" fill="#3ccc80"/>
<rect x="67" y="533" width="1" height="2" fill="#3ccc80"/>
<rect x="71" y="521" width="1" height="12" fill="#f8365a"/>
<rect x="75" y="506" width="1" height="27" fill="#f8365a"/>
<rect x="79" y="499" width="1" height="34" fill="#f8365a"/>
<rect x="83" y="500" width="1" height="33" fill="#f8365a"/>
<rect x="87" y="498" width="1" height="35" fill="#f8365a"/>
<rect x="91" y="501" width="1" height="32" fill="#f8365a"/>
<rect x="95" y="504" width="1" height="29" fill="#f8365a"/>
<rect x="99" y="501" width="1" height="32" fill="#f8365a"/>
<rect x="103" y="508" width="1" height="25" fill="#f8365a"/>
<rect x="107" y="520" width="1" height="13" fill="#f8365a"/>
<rect x="111" y="525" width="1" height="8" fill="#f8365a"/>
<rect x="115" y="532" width="1" height="1" fill="#f8365a"/>
<rect x="119" y="533" width="1" height="2" fill="#3ccc80"/>
<rect x="123" y="533" width="1" height="6" fill="#3ccc80"/>
<rect x="127" y="533" width="1" height="13" fill="#3ccc80"/>
<rect x="131" y="533" width="1" height="20" fill="#3ccc80"/>
<rect x="135" y="533" width="1" height="24" fill="#3ccc80"/>
<rect x="139" y="533" width="1" height="25" fill="#3ccc80"/>
<rect x="143" y="533" width="1" height="23" fill="#3ccc80"/>
<rect x="147" y="533" width="1" height="25" fill="#3ccc80"/>
<rect x="151" y="533" width="1" height="30" fill="#3ccc80"/>
<rect x="155" y="533" width="1" height="31" fill="#3ccc80"/>
<rect x="159" y="533" width="1" height="37" fill="#3ccc80"/>
<rect x="163" y="533" width="1" height="38" fill="#3ccc80"/>
<rect x="167" y="533" width="1" height="37" fill="#3ccc80"/>
<rect x="171" y="533" width="1" height="34" fill="#3ccc80"/>
<rect x="175" y="533" width="1" height="32" fill="#3ccc80"/>
<rect x="179" y="533" width="1" height="25" fill="#3ccc80"/>
<rect x="183" y="533" width="1" height="18" fill="#3ccc80"/>
<rect x="187" y="533" width="1" height="10" fill="#3ccc80"/>
<rect x="191" y="533" width="1" height="8" fill="#3ccc80"/>
<rect x="195" y="533" width="1" height="1" fill="#3ccc80"/>
<rect x="199" y="528" width="1" height="5" fill="#f8365a"/>
<rect x="203" y="529" width="1" height="4" fill="#f8365a"/>
<rect x="207" y="532" width="1" height="1" fill="#f8365a"/>
<rect x="211" y="530" width="1" height="3" fill="#f8365a"/>
<rect x="215" y="530" width="1" height="3" fill="#f8365a"/>
<rect x="219" y="526" width="1" height="7" fill="#f8365a"/>
<rect x="223" y="527" width="1" height="6" fill="#f8365a"/>
<rect x="227" y="526" width="1" height="7" fill="#f8365a"/>
<rect x="231" y="525" width="1" height="8" fill="#f8365a"/>
<rect x="235" y="527" width="1" height="6" fill="#f8365a"/>
<rect x="239" y="528" width="1" height="5" fill="#f8365a"/>
<rect x="243" y="529" width="1" height="4" fill="#f8365a"/>
<rect x="247" y="527" width="1" height="6" fill="#f8365a"/>
<rect x="251" y="521" width="1" height="12" fill="#f8365a"/>
<rect x="255" y="520" width="1" height="13" fill="#f8365a"/>
<rect x="259" y="520" width="1" height="13" fill="#f8365a"/>
<rect x="263" y="525" width="1" height="8" fill="#f8365a"/>
<rect x="267" y="530" width="1" height="3" fill="#f8365a"/>
<rect x="271" y="532" width="1" height="1" fill="#f8365a"/>
<rect x="275" y="533" width="1" height="1" fill="#3ccc80"/>
<rect x="279" y="531" width="1" height="2" fill="#f8365a"/>
<rect x="283" y="528" width="1" height="5" fill="#f8365a"/>
<rect x="287" y="525" width="1" height="8" fill="#f8365a"/>
<rect x="291" y="521" width="1" height="12" fill="#f8365a"/>
<rect x="295" y="519" width="1" height="14" fill="#f8365a"/>
<rect x="299" y="516" width="1" height="17" fill="#f8365a"/>
<rect x="303" y="514" width="1" height="19" fill="#f8365a"/>
<rect x="307" y="515" width="1" height="18" fill="#f8365a"/>
<rect x="311" y="519" width="1" height="14" fill="#f8365a"/>
<rect x="315" y="522" width="1" height="11" fill="#f8365a"/>
<rect x="319" y="529" width="1" height="4" fill="#f8365a"/>
<rect x="323" y="533" width="1" height="2" fill="#3ccc80"/>
<rect x="327" y="533" width="1" height="5" fill="#3ccc80"/>
<rect x="331" y="533" width="1" height="9" fill="#3ccc80"/>
<rect x="335" y="533" width="1" height="12" fill="#3ccc80"/>
<rect x="339" y="533" width="1" height="16" fill="#3ccc80"/>
<rect x="343" y="533" width="1" height="21" fill="#3ccc80"/>
<rect x="347" y="533" width="1" height="22" fill="#3ccc80"/>
<rect x="351" y="533" width="1" height="25" fill="#3ccc80"/>
<rect x="355" y="533" width="1" height="23" fill="#3ccc80"/>
<rect x="359" y="533" width="1" height="19" fill="#3ccc80"/>
<rect x="363" y="533" width="1" height="12" fill="#3ccc80"/>
<rect x="367" y="533" width="1" height="7" fill="#3ccc80"/>
<rect x="371" y="533" width="1" height="5" fill="#3ccc80"/>
<rect x="375" y="533" width="1" height="4" fill="#3ccc80"/>
<rect x="379" y="533" width="1" height="12" fill="#3ccc80"/>
<rect x="383" y="533" width="1" height="18" fill="#3ccc80"/>
<rect x="387" y="533" width="1" height="30" fill="#3ccc80"/>
<rect x="391" y="533" width="1" height="35" fill="#3ccc80"/>
<rect x="395" y="533" width="1" height="27" fill="#3ccc80"/>
<rect x="399" y="533" width="1" height="22" fill="#3ccc80"/>
<rect x="403" y="533" width="1" height="17" fill="#3ccc80"/>
<rect x="407" y="533" width="1" height="9" fill="#3ccc80"/>
<rect x="411" y="533" width="1" height="2" fill="#3ccc80"/>
<rect x="415" y="533" width="1" height="1" fill="#3ccc80"/>
<rect x="419" y="532" width="1" height="1" fill="#f8365a"/>
<rect x="423" y="529" width="1" height="4" fill="#f8365a"/>
<rect x="427" y="525" width="1" height="8" fill="#f8365a"/>
<rect x="431" y="527" width="1" height="6" fill="#f8365a"/>
<rect x="435" y="525" width="1" height="8" fill="#f8365a"/>
<rect x="439" y="526" width="1" height="7" fill="#f8365a"/>
<rect x="443" y="528" width="1" height="5" fill="#f8365a"/>
<rect x="447" y="530" width="1" height="3" fill="#f8365a"/>
<rect x="451" y="533" width="1" height="1" fill="#3ccc80"/>
<rect x="455" y="529" width="1" height="4" fill="#f8365a"/>
<rect x="459" y="532" width="1" height="1" fill="#f8365a"/>
<rect x="463" y="533" width="1" height="1" fill="#3ccc80"/>
<rect x="467" y="533" width="1" height="1" fill="#3ccc80"/>
<rect x="471" y="532" width="1" height="1" fill="#f8365a"/>
<rect x="475" y="531" width="1" height="2" fill="#f8365a"/>
<rect x="479" y="529" width="1" height="4" fill="#f8365a"/>
<rect x="483" y="532" width="1" height="1" fill="#f8365a"/>
<rect x="487" y="533" width="1" height="1" fill="#3ccc80"/>
<rect x="491" y="533" width="1" height="1" fill="#3ccc80"/>
<rect x="495" y="531" width="1" height="2" fill="#f8365a"/>
<rect x="499" y="527" width="1" height="6" fill="#f8365a"/>
<rect x="503" y="528" width="1" height="5" fill="#f8365a"/>
<rect x="507" y="529" width="1" height="4" fill="#f8365a"/>
<rect x="511" y="528" width="1" height="5" fill="#f8365a"/>
<rect x="515" y="528" width="1" height="5" fill="#f8365a"/>
<rect x="519" y="527" width="1" height="6" fill="#f8365a"/>
<rect x="523" y="521" width="1" height="12" fill="#f8365a"/>
<rect x="527" y="521" width="1" height="12" fill="#f8365a"/>
<rect x="531" y="523" width="1" height="10" fill="#f8365a"/>
<rect x="535" y="528" width="1" height="5" fill="#f8365a"/>
<rect x="539" y="528" width="1" height="5" fill="#f8365a"/>
<rect x="543" y="527" width="1" height="6" fill="#f8365a"/>
<rect x="547" y="532" width="1" height="1" fill="#f8365a"/>
<rect x="551" y="533" width="1" height="7" fill="#3ccc80"/>
<rect x="555" y="533" width="1" height="9" fill="#3ccc80"/>
<rect x="559" y="533" width="1" height="9" fill="#3ccc80"/>
<rect x="563" y="533" width="1" height="8" fill="#3ccc80"/>
<rect x="567" y="533" width="1" height="8" fill="#3ccc80"/>
<rect x="571" y="533" width="1" height="9" fill="#3ccc80"/>
<rect x="575" y="533" width="1" height="7" fill="#3ccc80"/>
<rect x="579" y="533" width="1" height="8" fill="#3ccc80"/>
<rect x="583" y="533" width="1" height="10" fill="#3ccc80"/>
<rect x="587" y="533" width="1" height="12" fill="#3ccc80"/>
<rect x="591" y="533" width="1" height="17" fill="#3ccc80"/>
<rect x="595" y="533" width="1" height="17" fill="#3ccc80"/>
<rect x="599" y="533" width="1" height="17" fill="#3ccc80"/>
<rect x="603" y="533" width="1" height="16" fill="#3ccc80"/>
<rect x="607" y="533" width="1" height="9" fill="#3ccc80"/>
<rect x="611" y="533" width="1" height="6" fill="#3ccc80"/>
<rect x="615" y="533" width="1" height="4" fill="#3ccc80"/>
<rect x="619" y="533" width="1" height="3" fill="#3ccc80"/>
<rect x="623" y="533" width="1" height="4" fill="#3ccc80"/>
<rect x="627" y="533" width="1" height="4" fill="#3ccc80"/>
<rect x="631" y="533" width="1" height="3" fill="#3ccc80"/>
<rect x="635" y="533" width="1" height="2" fill="#3ccc80"/>
<rect x="639" y="532" width="1" height="1" fill="#f8365a"/>
<rect x="643" y="530" width="1" height="3" fill="#f8365a"/>
<rect x="647" y="532" width="1" height="1" fill="#f8365a"/>
<rect x="651" y="533" width="1" height="3" fill="#3ccc80"/>
<rect x="655" y="533" width="1" height="6" fill="#3ccc80"/>
<rect x="659" y="533" width="1" height="8" fill="#3ccc80"/>
<rect x="663" y="533" width="1" height="11" fill="#3ccc80"/>
<rect x="667" y="533" width="1" height="12" fill="#3ccc80"/>
<rect x="671" y="533" width="1" height="8" fill="#3ccc80"/>
<rect x="675" y="533" width="1" height="4" fill="#3ccc80"/>
<rect x="679" y="533" width="1" height="1" fill="#3ccc80"/>
<rect x="683" y="531" width="1" height="2" fill="#f8365a"/>
<rect x="687" y="528" width="1" height="5" fill="#f8365a"/>
<rect x="691" y="524" width="1" height="9" fill="#f8365a"/>
<rect x="695" y="523" width="1" height="10" fill="#f8365a"/>
<rect x="699" y="523" width="1" height="10" fill="#f8365a"/>
</g>
<polyline points="11.5,481.0 15.5,486.0 19.5,490.2 23.5,494.3 27.5,499.4 31.5,502.4 35.5,503.5 39.5,506.0 43.5,508.6 47.5,508.6 51.5,502.7 55.5,501.5 59.5,502.4 63.5,501.9 67.5,502.4 71.5,492.7 75.5,482.6 79.5,475.1 83.5,470.9 87.5,466.2 91.5,463.7 95.5,460.4 99.5,457.2 103.5,457.2 107.5,460.9 111.5,463.1 115.5,465.9 119.5,467.6 123.5,470.9 127.5,475.5 131.5,481.4 135.5,486.0 139.5,489.0 143.5,491.0 147.5,495.2 151.5,501.0 155.5,506.9 159.5,514.4 163.5,519.4 167.5,523.1 171.5,525.6 175.5,528.3 179.5,528.3 183.5,526.1 187.5,524.1 191.5,523.1 195.5,520.3 199.5,517.4 203.5,517.4 207.5,518.6 211.5,517.8 215.5,517.4 219.5,514.4 223.5,513.6 227.5,511.9 231.5,511.4 235.5,511.4 239.5,511.4 243.5,510.2 247.5,508.6 251.5,504.9 255.5,502.4 259.5,501.0 263.5,503.2 267.5,505.2 271.5,506.0 275.5,506.9 279.5,504.9 283.5,502.7 287.5,500.7 291.5,496.8 295.5,494.3 299.5,491.0 303.5,487.6 307.5,486.0 311.5,486.0 315.5,486.3 319.5,490.2 323.5,492.7 327.5,495.2 331.5,498.2 335.5,501.9 339.5,506.0 343.5,510.2 347.5,513.6 351.5,517.4 355.5,519.1 359.5,518.6 363.5,516.4 367.5,515.3 371.5,515.1 375.5,515.3 379.5,520.3 383.5,525.3 387.5,535.3 391.5,541.7 395.5,541.7 399.5,541.7 403.5,541.2 407.5,537.0 411.5,535.3 415.5,533.7 419.5,533.2 423.5,531.1 427.5,528.6 431.5,528.1 435.5,527.3 439.5,527.3 443.5,527.3 447.5,528.6 451.5,530.0 455.5,527.3 459.5,529.1 463.5,529.5 467.5,530.0 471.5,528.6 475.5,528.1 479.5,527.3 483.5,528.1 487.5,528.6 491.5,529.1 495.5,527.0 499.5,525.0 503.5,524.1 507.5,525.3 511.5,524.1 515.5,523.1 519.5,522.3 523.5,517.4 527.5,516.4 531.5,516.4 535.5,517.4 539.5,517.4 543.5,516.4 547.5,518.6 551.5,523.1 555.5,525.3 559.5,526.1 563.5,527.8 567.5,528.1 571.5,529.1 575.5,530.0 579.5,530.8 583.5,533.2 587.5,536.2 591.5,540.3 595.5,542.5 599.5,544.5 603.5,545.4 607.5,543.3 611.5,542.0 615.5,542.0 619.5,541.2 623.5,542.9 627.5,543.4 631.5,543.4 635.5,542.0 639.5,541.7 643.5,540.3 647.5,541.2 651.5,543.4 655.5,545.4 659.5,547.9 663.5,550.4 667.5,551.2 671.5,550.4 675.5,549.2 679.5,548.2 683.5,546.7 687.5,544.2 691.5,541.2 695.5,539.2 699.5,538.2" fill="none" stroke="#f4f4f4" stroke-width="1.0" stroke-linejoin="round"/>
<polyline points="11.5,485.5 15.5,485.5 19.5,486.0 23.5,487.6 27.5,490.2 31.5,492.3 35.5,494.3 39.5,496.5 43.5,499.0 47.5,501.0 51.5,501.5 55.5,501.5 59.5,501.5 63.5,501.5 67.5,501.0 71.5,500.2 75.5,496.5 79.5,492.3 83.5,488.1 87.5,484.0 91.5,479.8 95.5,475.9 99.5,471.4 103.5,468.7 107.5,467.2 111.5,467.2 115.5,466.2 119.5,466.7 123.5,467.2 127.5,469.1 131.5,471.5 135.5,475.1 139.5,478.1 143.5,481.5 147.5,485.5 151.5,489.0 155.5,492.7 159.5,498.2 163.5,503.2 167.5,507.4 171.5,511.1 175.5,514.4 179.5,516.4 183.5,518.1 187.5,518.9 191.5,519.9 195.5,520.3 199.5,519.4 203.5,519.1 207.5,519.1 211.5,518.6 215.5,518.6 219.5,517.8 223.5,516.9 227.5,515.8 231.5,514.7 235.5,514.1 239.5,513.2 243.5,512.7 247.5,512.1 251.5,510.6 255.5,509.1 259.5,508.1 263.5,506.9 267.5,506.4 271.5,506.4 275.5,506.4 279.5,506.4 283.5,506.0 287.5,504.4 291.5,502.2 295.5,499.9 299.5,497.7 303.5,495.5 307.5,493.8 311.5,492.7 315.5,491.8 319.5,491.3 323.5,491.8 327.5,492.7 331.5,493.8 335.5,495.5 339.5,497.7 343.5,500.7 347.5,503.5 351.5,506.4 355.5,509.1 359.5,510.7 363.5,511.6 367.5,512.7 371.5,513.2 375.5,513.2 379.5,514.4 383.5,517.4 387.5,521.1 391.5,525.6 395.5,528.6 399.5,530.8 403.5,532.8 407.5,533.7 411.5,534.2 415.5,534.2 419.5,534.2 423.5,533.7 427.5,532.5 431.5,531.5 435.5,530.8 439.5,530.3 443.5,530.0 447.5,529.5 451.5,529.5 455.5,529.1 459.5,529.1 463.5,529.1 467.5,529.1 471.5,529.1 475.5,529.0 479.5,528.6 483.5,528.6 487.5,528.6 491.5,528.9 495.5,528.3 499.5,527.5 503.5,527.0 507.5,527.0 511.5,526.1 515.5,525.6 519.5,525.0 523.5,523.6 527.5,522.3 531.5,521.1 535.5,519.9 539.5,519.1 543.5,519.1 547.5,519.1 551.5,519.4 555.5,521.1 559.5,522.3 563.5,523.1 567.5,524.5 571.5,525.3 575.5,525.8 579.5,526.6 583.5,528.1 587.5,530.0 591.5,532.3 595.5,534.2 599.5,536.7 603.5,538.3 607.5,539.8 611.5,540.3 615.5,540.8 619.5,540.8 623.5,541.2 627.5,541.7 631.5,541.7 635.5,541.7 639.5,541.7 643.5,541.2 647.5,541.7 651.5,541.7 655.5,542.5 659.5,543.7 663.5,544.9 667.5,546.2 671.5,547.4 675.5,547.4 679.5,547.4 683.5,547.0 687.5,546.7 691.5,545.4 695.5,544.5 699.5,543.4" fill="none" stroke="#e6e614" stroke-width="1.0" stroke-linejoin="round"/>
<polyline points="11.5,629.0 15.5,637.9 19.5,641.9 23.5,644.0 27.5,655.4 31.5,644.0 35.5,638.2 39.5,642.4 43.5,649.4 47.5,633.2 51.5,605.2 55.5,629.8 59.5,641.5 63.5,633.2 67.5,636.2 71.5,605.6 75.5,594.4 79.5,594.7 83.5,609.4 87.5,599.4 91.5,607.2 95.5,604.4 99.5,595.5 103.5,614.8 107.5,633.2 111.5,625.6 115.5,630.3 119.5,624.5 123.5,629.8 127.5,639.9 131.5,648.2 135.5,646.2 139.5,644.4 143.5,636.5 147.5,650.4 151.5,663.0 155.5,659.6 159.5,685.5 163.5,668.3 167.5,670.0 171.5,668.3 175.5,672.2 179.5,658.3 183.5,650.4 187.5,643.2 191.5,653.3 195.5,640.4 199.5,636.5 203.5,648.2 207.5,656.3 211.5,644.9 215.5,648.2 219.5,633.2 223.5,648.2 227.5,641.5 231.5,637.4 235.5,647.4 239.5,643.7 243.5,641.5 247.5,632.3 251.5,618.1 255.5,626.8 259.5,625.6 263.5,645.4 267.5,645.4 271.5,642.4 275.5,636.5 279.5,627.3 283.5,621.0 287.5,613.6 291.5,608.1 295.5,605.6 299.5,597.2 303.5,595.2 307.5,598.0 311.5,612.3 315.5,609.4 319.5,633.2 323.5,629.0 327.5,631.5 331.5,638.2 335.5,641.5 339.5,649.9 343.5,669.5 347.5,658.3 351.5,671.2 355.5,661.1 359.5,643.2 363.5,632.0 367.5,629.3 371.5,636.3 375.5,638.2 379.5,679.7 383.5,688.4 387.5,708.8 391.5,707.6 395.5,666.3 399.5,670.0 403.5,670.0 407.5,653.3 411.5,652.4 415.5,658.3 419.5,663.3 423.5,651.6 427.5,645.4 431.5,658.3 435.5,647.4 439.5,657.4 443.5,660.3 447.5,660.8 451.5,670.5 455.5,645.4 459.5,667.1 463.5,662.5 467.5,663.3 471.5,654.9 475.5,654.4 479.5,649.1 483.5,666.1 487.5,660.8 491.5,663.3 495.5,646.6 499.5,638.2 503.5,653.3 507.5,655.8 511.5,647.4 515.5,648.2 519.5,641.2 523.5,621.5 527.5,637.4 531.5,646.1 535.5,656.3 539.5,643.2 543.5,641.5 547.5,658.3 551.5,676.2 555.5,667.5 559.5,662.1 563.5,660.3 567.5,661.6 571.5,665.3 575.5,658.6 579.5,666.6 583.5,679.7 587.5,688.1 591.5,700.4 595.5,683.4 599.5,694.2 603.5,682.5 607.5,670.8 611.5,661.3 615.5,670.0 619.5,672.5 623.5,682.2 627.5,678.3 631.5,675.0 635.5,672.5 639.5,666.6 643.5,665.3 647.5,680.9 651.5,692.6 655.5,699.3 659.5,704.3 663.5,709.3 667.5,706.8 671.5,681.7 675.5,677.2 679.5,678.3 683.5,670.0 687.5,665.0 691.5,650.4 695.5,654.9 699.5,662.5" fill="none" stroke="#ee2cee" stroke-width="1.0" stroke-linejoin="round"/>
<g fill="#f4f4f4" shape-rendering="crispEdges">
<rect x="301" y="95" width="7" height="1"/>
<rect x="303" y="93" width="1" height="5"/>
<rect x="525" y="69" width="7" height="1"/>
<rect x="527" y="67" width="1" height="5"/>
<rect x="29" y="409" width="7" height="1"/>
<rect x="31" y="407" width="1" height="5"/>
<rect x="665" y="198" width="7" height="1"/>
<rect x="667" y="196" width="1" height="5"/>
</g>
<g font-family="Liberation Sans, sans-serif" font-size="12px">
<g font-weight="bold">
<text x="309.2" y="91.7" fill="#e8364f" letter-spacing="0.1">1.1829</text>
<text x="533.2" y="65.5" fill="#e8364f" letter-spacing="0.1">1.1918</text>
<text x="673" y="209.8" fill="#3cbc7c">1.1468</text>
<text x="37" y="421.2" fill="#3cbc7c">1.0732</text>
</g>
<text x="731.1" y="32.3" fill="#fa2f4e" stroke="#fa2f4e" stroke-width="0.3" letter-spacing="0.08">1.2060</text>
<text x="5.5" y="32.3" fill="#fa2f4e" stroke="#fa2f4e" stroke-width="0.12" text-anchor="end">1.2060</text>
<rect x="728" y="28" width="3" height="1" fill="#3a3a3a"/>
<text x="731.1" y="90.3" fill="#fa2f4e" stroke="#fa2f4e" stroke-width="0.3" letter-spacing="0.08">1.1857</text>
<text x="5.5" y="90.3" fill="#fa2f4e" stroke="#fa2f4e" stroke-width="0.12" text-anchor="end">1.1857</text>
<rect x="728" y="86" width="3" height="1" fill="#3a3a3a"/>
<text x="731.1" y="148.3" fill="#fa2f4e" stroke="#fa2f4e" stroke-width="0.3" letter-spacing="0.08">1.1654</text>
<text x="5.5" y="148.3" fill="#fa2f4e" stroke="#fa2f4e" stroke-width="0.12" text-anchor="end">1.1654</text>
<rect x="728" y="144" width="3" height="1" fill="#3a3a3a"/>
<text x="731.1" y="206.3" fill="#fa2f4e" stroke="#fa2f4e" stroke-width="0.3" letter-spacing="0.08">1.1451</text>
<text x="5.5" y="206.3" fill="#fa2f4e" stroke="#fa2f4e" stroke-width="0.12" text-anchor="end">1.1451</text>
<rect x="728" y="202" width="3" height="1" fill="#3a3a3a"/>
<text x="731.1" y="264.3" fill="#fa2f4e" stroke="#fa2f4e" stroke-width="0.3" letter-spacing="0.08">1.1248</text>
<text x="5.5" y="264.3" fill="#fa2f4e" stroke="#fa2f4e" stroke-width="0.12" text-anchor="end">1.1248</text>
<rect x="728" y="260" width="3" height="1" fill="#3a3a3a"/>
<text x="731.1" y="322.3" fill="#fa2f4e" stroke="#fa2f4e" stroke-width="0.3" letter-spacing="0.08">1.1045</text>
<text x="5.5" y="322.3" fill="#fa2f4e" stroke="#fa2f4e" stroke-width="0.12" text-anchor="end">1.1045</text>
<rect x="728" y="318" width="3" height="1" fill="#3a3a3a"/>
<text x="731.1" y="380.3" fill="#fa2f4e" stroke="#fa2f4e" stroke-width="0.3" letter-spacing="0.08">1.0842</text>
<text x="5.5" y="380.3" fill="#fa2f4e" stroke="#fa2f4e" stroke-width="0.12" text-anchor="end">1.0842</text>
<rect x="728" y="376" width="3" height="1" fill="#3a3a3a"/>
<text x="730.6" y="460.3" fill="#fa2f4e" stroke="#fa2f4e" stroke-width="0.3" letter-spacing="0.22">0.0182</text>
<text x="5.5" y="460.3" fill="#fa2f4e" stroke="#fa2f4e" stroke-width="0.12" text-anchor="end">0.0182</text>
<rect x="728" y="456" width="3" height="1" fill="#3a3a3a"/>
<text x="730.6" y="483.3" fill="#fa2f4e" stroke="#fa2f4e" stroke-width="0.3" letter-spacing="0.22">0.0127</text>
<text x="5.5" y="483.3" fill="#fa2f4e" stroke="#fa2f4e" stroke-width="0.12" text-anchor="end">0.0127</text>
<rect x="728" y="479" width="3" height="1" fill="#3a3a3a"/>
<text x="730.6" y="506.3" fill="#fa2f4e" stroke="#fa2f4e" stroke-width="0.3" letter-spacing="0.22">0.0072</text>
<text x="5.5" y="506.3" fill="#fa2f4e" stroke="#fa2f4e" stroke-width="0.12" text-anchor="end">0.0072</text>
<rect x="728" y="502" width="3" height="1" fill="#3a3a3a"/>
<text x="730.6" y="529.3" fill="#fa2f4e" stroke="#fa2f4e" stroke-width="0.3" letter-spacing="0.22">0.0017</text>
<text x="5.5" y="529.3" fill="#fa2f4e" stroke="#fa2f4e" stroke-width="0.12" text-anchor="end">0.0017</text>
<rect x="728" y="525" width="3" height="1" fill="#3a3a3a"/>
<text x="730.6" y="552.3" fill="#fa2f4e" stroke="#fa2f4e" stroke-width="0.3" letter-spacing="0.22">-0.0038</text>
<text x="5.5" y="552.3" fill="#fa2f4e" stroke="#fa2f4e" stroke-width="0.12" text-anchor="end">-0.0038</text>
<rect x="728" y="548" width="3" height="1" fill="#3a3a3a"/>
<text x="730.6" y="597.3" fill="#fa2f4e" stroke="#fa2f4e" stroke-width="0.3" letter-spacing="0.22">75.4849</text>
<text x="5.5" y="597.3" fill="#fa2f4e" stroke="#fa2f4e" stroke-width="0.12" text-anchor="end">75.4849</text>
<rect x="728" y="593" width="3" height="1" fill="#3a3a3a"/>
<text x="730.6" y="620.3" fill="#fa2f4e" stroke="#fa2f4e" stroke-width="0.3" letter-spacing="0.22">66.9091</text>
<text x="5.5" y="620.3" fill="#fa2f4e" stroke="#fa2f4e" stroke-width="0.12" text-anchor="end">66.9091</text>
<rect x="728" y="616" width="3" height="1" fill="#3a3a3a"/>
<text x="730.6" y="643.3" fill="#fa2f4e" stroke="#fa2f4e" stroke-width="0.3" letter-spacing="0.22">58.3333</text>
<text x="5.5" y="643.3" fill="#fa2f4e" stroke="#fa2f4e" stroke-width="0.12" text-anchor="end">58.3333</text>
<rect x="728" y="639" width="3" height="1" fill="#3a3a3a"/>
<text x="730.6" y="667.3" fill="#fa2f4e" stroke="#fa2f4e" stroke-width="0.3" letter-spacing="0.22">49.7575</text>
<text x="5.5" y="667.3" fill="#fa2f4e" stroke="#fa2f4e" stroke-width="0.12" text-anchor="end">49.7575</text>
<rect x="728" y="663" width="3" height="1" fill="#3a3a3a"/>
<text x="730.6" y="690.3" fill="#fa2f4e" stroke="#fa2f4e" stroke-width="0.3" letter-spacing="0.22">41.1817</text>
<text x="5.5" y="690.3" fill="#fa2f4e" stroke="#fa2f4e" stroke-width="0.12" text-anchor="end">41.1817</text>
<rect x="728" y="686" width="3" height="1" fill="#3a3a3a"/>
<rect x="727.5" y="243.5" width="52" height="16" fill="#000" stroke="#282828" stroke-width="1"/>
<text x="730" y="255.2" fill="#e8a02c">1.1313</text>
<text x="10" y="22.3" font-family="Liberation Sans, Noto Sans CJK SC, sans-serif"><tspan fill="#f0f0f0">欧元美元</tspan><tspan fill="#f0a020">【日线】</tspan></text>
<g stroke="#f0a020" fill="none" stroke-width="1"><circle cx="111.4" cy="18.2" r="4.3"/><line x1="107" y1="18.2" x2="116" y2="18.2"/><line x1="111.4" y1="14" x2="111.4" y2="22.5"/></g>
<text x="10.6" y="448.9"><tspan fill="#ececec" letter-spacing="0.13">MACD(26,12,9) DIFF:-0.0013</tspan><tspan fill="#d4d408" dx="8" letter-spacing="0.09">DEA:-0.0025</tspan><tspan fill="#d82af0" dx="8.4" letter-spacing="0.2">MACD:0.0023</tspan></text>
<text x="10.8" y="586"><tspan fill="#ececec">RSI(14,14,14) RSI1:49.9578</tspan><tspan fill="#d4d408" dx="9.5">RSI2:49.9578</tspan><tspan fill="#d82af0" dx="9">RSI3:49.9578</tspan></text>
<g font-weight="bold" fill="#c8c8c8">
<text x="45.0" y="723.3" letter-spacing="0.22">2025/04</text>
<text x="133.0" y="723.3" letter-spacing="0.22">2025/05</text>
<text x="221.0" y="723.3" letter-spacing="0.22">2025/06</text>
<text x="305.0" y="723.3" letter-spacing="0.22">2025/07</text>
<text x="397.0" y="723.3" letter-spacing="0.22">2025/08</text>
<text x="481.0" y="723.3" letter-spacing="0.22">2025/09</text>
<text x="569.0" y="723.3" letter-spacing="0.22">2025/10</text>
<text x="661.0" y="723.3" letter-spacing="0.22">2025/11</text>
</g>
<rect x="524.5" y="710.5" width="110" height="17" fill="#000" stroke="#242424" stroke-width="1"/>
<text x="526.4" y="722.7" fill="#f0a020" font-family="Liberation Sans, Noto Sans CJK SC, sans-serif" font-size="12.5px" letter-spacing="0.12">2025/09/17 星期三</text>
</g>
<g stroke="#b0b0b0" fill="none" stroke-width="1" shape-rendering="crispEdges">
<rect x="664.5" y="8.5" width="13" height="13"/>
<rect x="680.5" y="8.5" width="13" height="13"/>
<rect x="696.5" y="8.5" width="13" height="13"/>
<rect x="712.5" y="8.5" width="13" height="13"/>
</g>
<g fill="#9a9a9a">
<rect x="669.9" y="13.7" width="2.4" height="2.4"/>
<rect x="666.2" y="13.7" width="2.4" height="2.4"/>
<rect x="673.6" y="13.7" width="2.4" height="2.4"/>
<rect x="669.9" y="10.0" width="2.4" height="2.4"/>
<rect x="669.9" y="17.4" width="2.4" height="2.4"/>
</g>
<g stroke="#b0b0b0" fill="#b0b0b0" stroke-width="1">
<path d="M683.5 10.5V19.5M682 18.5H692" fill="none"/>
<path d="M683.5 9.5l-1.5 2h3zM683.5 20.5l-1.5 -2h3zM681.5 18.5l2-1.5v3zM692.5 18.5l-2-1.5v3z" stroke="none"/>
<path d="M699.5 10.5V19.5M698 18.5H708" fill="none"/>
<path d="M699.5 9.5l-1.5 2h3zM699.5 20.5l-1.5 -2h3zM697.5 18.5l2-1.5v3zM708.5 18.5l-2-1.5v3z" stroke="none"/>
<path d="M686.5 11V17" fill="none"/><path d="M687.5 14l3-3v6z" stroke="none"/>
<path d="M702.5 11l5 3.2l-5 3.2z" stroke="none" fill="#8c8c8c"/>
<rect x="714.5" y="10.5" width="3" height="9" fill="none"/><path d="M716 14.5H721" fill="none"/><path d="M723 14.5l-3-2.5v5z" stroke="none"/>
</g>
<text transform="scale(1.045,1)" x="619.72 641.11 662.58 680.99 698.74" y="704.3" font-family="Liberation Sans, sans-serif" font-size="29.2px" fill="#f2f2f2" stroke="#f2f2f2" stroke-width="0.35" paint-order="stroke" style="text-shadow:0 0 2px #000">FX678</text>
</svg>
</body></html>
